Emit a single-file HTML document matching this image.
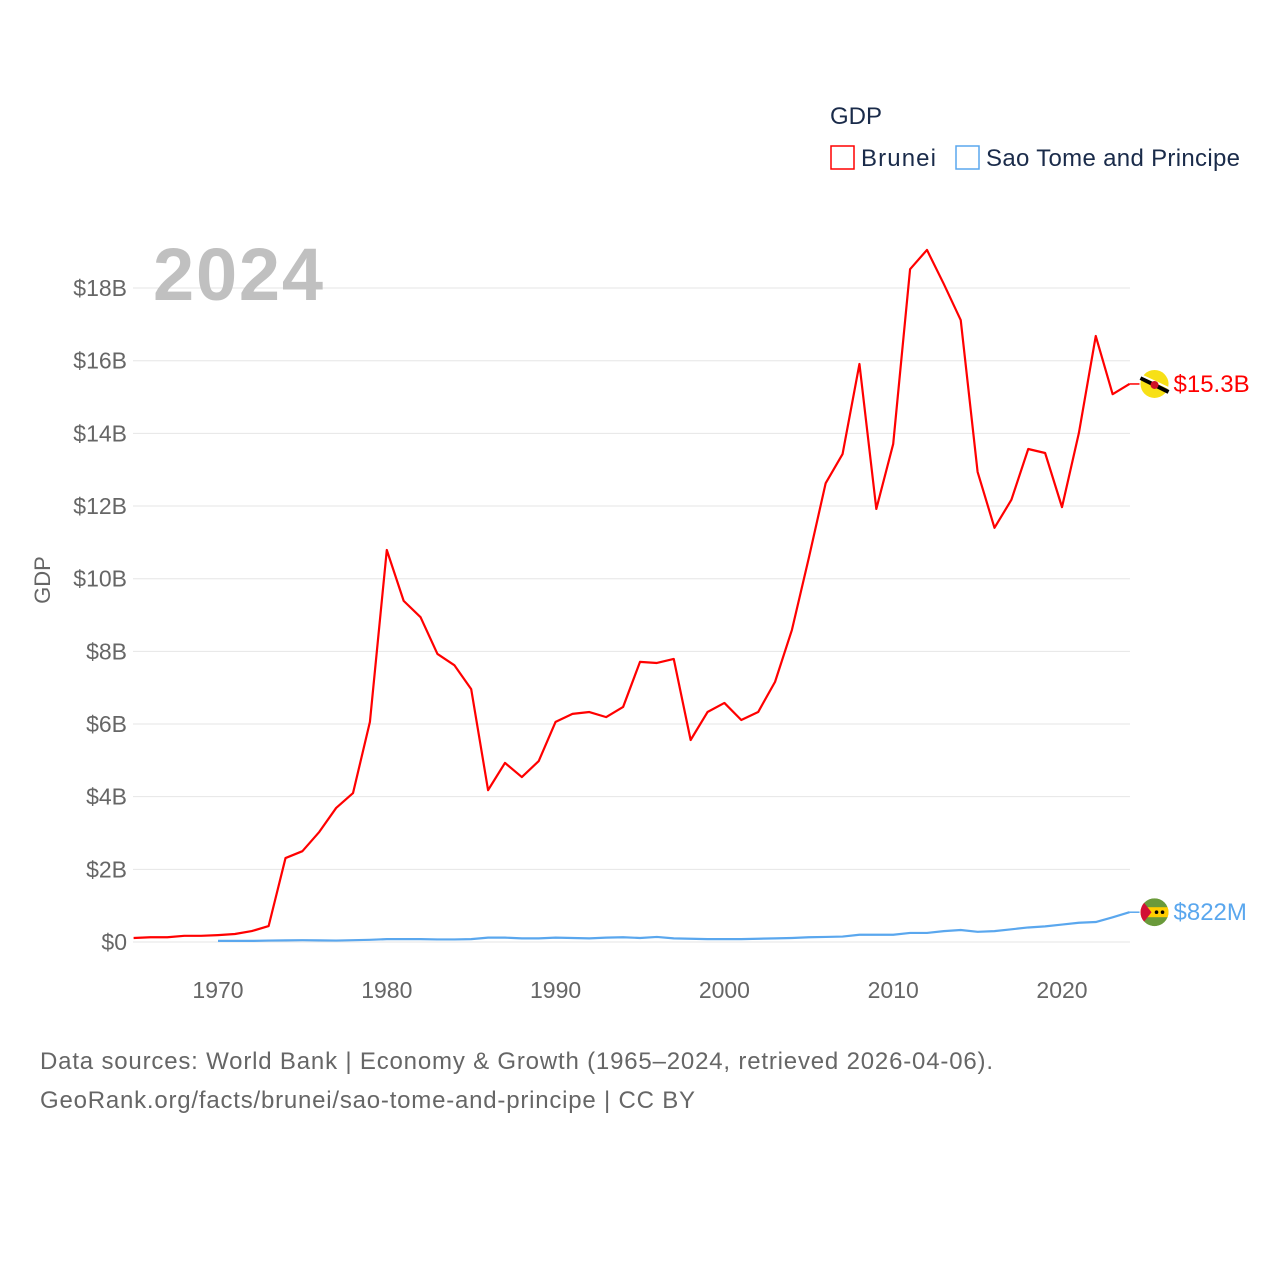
<!DOCTYPE html>
<html><head><meta charset="utf-8"><style>
body{margin:0;background:#fff;font-family:"Liberation Sans",sans-serif}
svg text{font-family:"Liberation Sans",sans-serif}
</style></head><body>
<svg id="chart" width="1280" height="1280" viewBox="0 0 1280 1280">
<defs><clipPath id="stpclip"><circle cx="1154" cy="912" r="14"/></clipPath></defs>
<g id="grid"></g>
<g id="yticks"></g>
<g id="xticks"></g>
<text x="238" y="300" font-size="74" font-weight="bold" fill="#c0c0c0" text-anchor="middle" textLength="170">2024</text>
<text transform="translate(50,580) rotate(-90)" font-size="22" fill="#666" text-anchor="middle">GDP</text>
<g id="series"></g>
<g>
<text x="830" y="124" font-size="24" fill="#1a2b4a">GDP</text>
<g><rect x="831" y="146" width="23" height="23" fill="none" stroke="#ff0000" stroke-width="1.5"/><text x="861" y="166" font-size="24" fill="#1a2b4a" textLength="75">Brunei</text></g>
<g><rect x="956" y="146" width="23" height="23" fill="none" stroke="#5aa7ee" stroke-width="1.5"/><text x="986" y="166" font-size="24" fill="#1a2b4a" textLength="254">Sao Tome and Principe</text></g>
</g>
<g>
<text x="40" y="1069" font-size="24" fill="#666" textLength="953">Data sources: World Bank | Economy &amp; Growth (1965–2024, retrieved 2026-04-06).</text>
<text x="40" y="1108" font-size="24" fill="#666" textLength="655">GeoRank.org/facts/brunei/sao-tome-and-principe | CC BY</text>
</g>
</svg>
<script>
const years=[];for(let y=1965;y<=2024;y++)years.push(y);
const bruneiGDP=[0.11,0.13,0.13,0.17,0.17,0.19,0.22,0.30,0.44,2.31,2.5,3.03,3.69,4.1,6.06,10.79,9.39,8.94,7.93,7.62,6.96,4.18,4.93,4.54,4.98,6.06,6.28,6.33,6.19,6.47,7.71,7.68,7.79,5.56,6.33,6.58,6.11,6.33,7.16,8.59,10.57,12.63,13.43,15.91,11.92,13.71,18.52,19.05,18.11,17.12,12.94,11.4,12.17,13.57,13.46,11.97,14.01,16.68,15.08,15.36];
const stpYears=[];for(let y=1970;y<=2024;y++)stpYears.push(y);
const stpGDP=[0.03,0.03,0.03,0.04,0.045,0.05,0.045,0.04,0.05,0.06,0.08,0.08,0.08,0.07,0.07,0.08,0.12,0.12,0.1,0.1,0.12,0.11,0.1,0.12,0.13,0.11,0.14,0.1,0.09,0.08,0.08,0.08,0.09,0.1,0.11,0.13,0.14,0.15,0.2,0.2,0.2,0.25,0.25,0.3,0.33,0.28,0.3,0.35,0.4,0.43,0.48,0.53,0.55,0.68,0.82];
const yTicks=[0,2,4,6,8,10,12,14,16,18];
const yTickLabels=["$0","$2B","$4B","$6B","$8B","$10B","$12B","$14B","$16B","$18B"];
const xTicks=[1970,1980,1990,2000,2010,2020];
const endLabels=["$15.3B","$822M"];
const NS="http://www.w3.org/2000/svg";
const X=y=>218+(y-1970)*16.88, Y=v=>942-v*36.33;
function mk(t,a,p){const e=document.createElementNS(NS,t);for(const k in a)e.setAttribute(k,a[k]);p.appendChild(e);return e;}
const grid=document.getElementById('grid'),yt=document.getElementById('yticks'),xt=document.getElementById('xticks'),se=document.getElementById('series');
yTicks.forEach((v,i)=>{
 const l=mk('line',{x1:133,x2:1130,y1:Y(v),y2:Y(v),stroke:'#e6e6e6','stroke-width':1},grid);
 
 
 const t=mk('text',{x:127,y:Y(v)+8,'font-size':23,fill:'#666','text-anchor':'end'},yt);t.textContent=yTickLabels[i];
 
 
});
xTicks.forEach(v=>{
 const t=mk('text',{x:X(v),y:998,'font-size':23,fill:'#666','text-anchor':'middle'},xt);t.textContent=v;
 
 
});
function line(xs,vs,c,name){
 const p=mk('polyline',{points:xs.map((y,i)=>X(y)+','+Y(vs[i])).join(' '),fill:'none',stroke:c,'stroke-width':2.2,'stroke-linejoin':'round'},se);
 
 
}
line(years,bruneiGDP,'#ff0000','brunei-line');
line(stpYears,stpGDP,'#5aa7ee','sao-tome-line');
function endMark(v,c,lab,name,flag){
 const yy=Y(v),x0=X(2024);
 mk('line',{x1:x0,x2:x0+10,y1:yy,y2:yy,stroke:c,'stroke-width':1.5},se);
 const g=mk('g',{},se);
 
 
 const cx=x0+25;
 if(flag==='bn'){
  mk('circle',{cx:cx,cy:yy,r:14,fill:'#f7e017'},g);
  mk('line',{x1:cx-14,y1:yy-6,x2:cx+14,y2:yy+8,stroke:'#000','stroke-width':4},g);
  mk('line',{x1:cx-14,y1:yy-9,x2:cx+14,y2:yy+4,stroke:'#fff','stroke-width':2},g);
  mk('circle',{cx:cx,cy:yy+1,r:4,fill:'#cf1126'},g);
 }else{
  document.querySelector('#stpclip circle').setAttribute('cx',cx);
  document.querySelector('#stpclip circle').setAttribute('cy',yy);
  g.setAttribute('clip-path','url(#stpclip)');
  mk('circle',{cx:cx,cy:yy,r:14,fill:'#6a9a3a'},g);
  mk('rect',{x:cx-14,y:yy-5,width:28,height:10,fill:'#ffce00'},g);
  mk('path',{d:`M${cx-14},${yy-14} L${cx-3},${yy} L${cx-14},${yy+14}Z`,fill:'#d21034'},g);
  mk('circle',{cx:cx+2,cy:yy,r:1.8,fill:'#000'},g);mk('circle',{cx:cx+8,cy:yy,r:1.8,fill:'#000'},g);
 }
 const t=mk('text',{x:x0+44,y:yy+8,'font-size':24,fill:c},se);t.textContent=lab;
 
 
}
endMark(bruneiGDP[bruneiGDP.length-1],'#ff0000',endLabels[0],'brunei','bn');
endMark(stpGDP[stpGDP.length-1],'#5aa7ee',endLabels[1],'sao-tome','st');
</script>
</body></html>
